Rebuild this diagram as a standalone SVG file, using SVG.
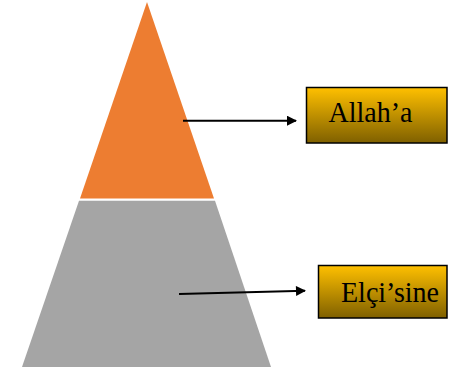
<svg xmlns="http://www.w3.org/2000/svg" width="450" height="371" viewBox="0 0 450 371">
<style>
.lbl{font-family:"Liberation Serif","Times New Roman",serif;font-size:30px;fill:#000}
.box{fill:url(#gold);stroke:#000;stroke-width:1.5}
.conn{stroke:#000;stroke-width:2;fill:none;marker-end:url(#ah)}
</style>
<defs>
<linearGradient id="gold" x1="0" y1="0" x2="0" y2="1">
<stop offset="0" stop-color="#ffc000"/>
<stop offset="1" stop-color="#7f6000"/>
</linearGradient>
<marker id="ah" viewBox="0 0 10 10" refX="9" refY="5" markerWidth="5.5" markerHeight="5" markerUnits="strokeWidth" orient="auto">
<path d="M0,0 L10,5 L0,10 Z" fill="#000"/>
</marker>
</defs>
<g id="top-level">
<polygon points="147,2 214,198.5 80,198.5" fill="#ed7d31"/>
</g>
<g id="bottom-level">
<polygon points="79,200.8 215,200.8 271,367 22,367" fill="#a5a5a5"/>
</g>
<g id="connectors">
<line class="conn" x1="183" y1="120.7" x2="296" y2="120.7"/>
<line class="conn" x1="179" y1="294" x2="305" y2="290.7"/>
</g>
<g id="node-allaha">
<rect class="box" x="306.5" y="87.5" width="140.5" height="55.5"/>
<text class="lbl" x="328.5" y="122" textLength="84" lengthAdjust="spacingAndGlyphs">Allah’a</text>
</g>
<g id="node-elcisine">
<rect class="box" x="318.5" y="265.5" width="128.5" height="52.5"/>
<text class="lbl" x="341" y="301.5" textLength="98" lengthAdjust="spacingAndGlyphs">Elçi’sine</text>
</g>
</svg>
